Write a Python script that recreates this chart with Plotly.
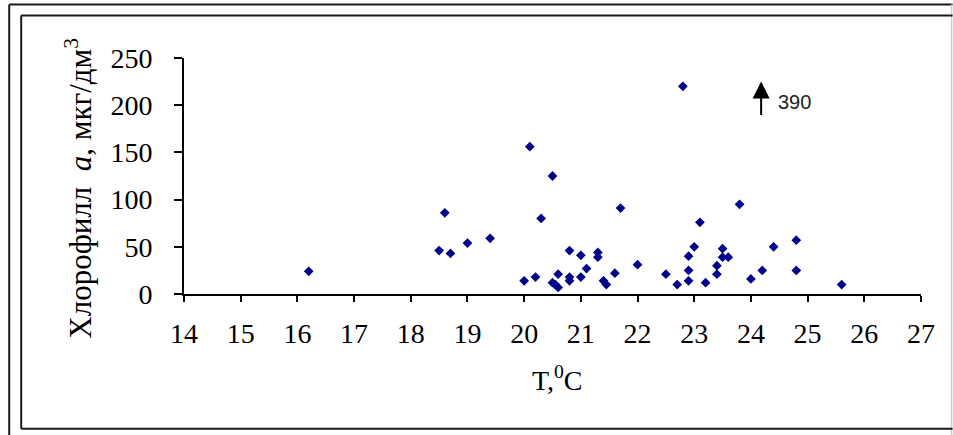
import plotly.graph_objects as go

# Data
temperature = [16.2, 18.5, 18.6, 18.7, 19.0, 19.4, 20.0, 20.1, 20.2, 20.3,
               20.5, 20.5, 20.55, 20.6, 20.6, 20.8, 20.8, 20.8, 21.0, 21.0,
               21.1, 21.3, 21.3, 21.4, 21.45, 21.6, 21.7, 22.0, 22.5, 22.7,
               22.8, 22.9, 22.9, 22.9, 23.0, 23.1, 23.2, 23.4, 23.4, 23.5,
               23.5, 23.6, 23.8, 24.0, 24.2, 24.4, 24.8, 24.8, 25.6]
chlorophyll = [24, 46, 86, 43, 54, 59, 14, 156, 18, 80,
               125, 12, 10, 7, 21, 46, 18, 14, 41, 18,
               27, 44, 39, 14, 10, 22, 91, 31, 21, 10,
               220, 14, 25, 40, 50, 76, 12, 30, 21, 48,
               39, 39, 95, 16, 25, 50, 57, 25, 10]

x_ticks = list(range(14, 28))
y_ticks = [0, 50, 100, 150, 200, 250]

outlier_x = 24.18
outlier_arrow = [188, 225]
outlier_label = "390"

W, H = 953, 435
L, R, T, B = 183.5, 921.4, 58.3, 293.7
pw, ph = R - L, B - T


def px(xp):
    return (xp - L) / pw


def py(yp):
    return (B - yp) / ph


serif = "Liberation Serif"
fig = go.Figure()
fig.add_trace(go.Scatter(
    x=temperature, y=chlorophyll, mode="markers",
    marker=dict(symbol="diamond", size=7.5, color="#00008B",
                line=dict(width=0)),
    showlegend=False, cliponaxis=False,
))

fig.update_layout(
    width=W, height=H,
    margin=dict(l=L, r=W - R, t=T, b=H - B),
    paper_bgcolor="white", plot_bgcolor="white",
    font=dict(family=serif, size=28, color="black"),
    xaxis=dict(range=[14, 27], tickvals=x_ticks, ticktext=[str(v) for v in x_ticks],
               showgrid=False, zeroline=False, showline=True, linecolor="black",
               linewidth=2, ticks="outside", ticklen=6, tickwidth=1.5,
               tickcolor="black", ticklabelstandoff=7,
               tickfont=dict(family=serif, size=28, color="black")),
    yaxis=dict(range=[0, 250], tickvals=y_ticks, ticktext=[str(v) for v in y_ticks],
               showgrid=False, zeroline=False, showline=True, linecolor="black",
               linewidth=2, ticks="outside", ticklen=8, tickwidth=1.5,
               tickcolor="black", ticklabelstandoff=16,
               tickfont=dict(family=serif, size=28, color="black")),
)

annotations = [
    dict(xref="paper", yref="paper", x=px(77), y=py(188), textangle=-90,
         text="Хлорофилл&nbsp; <i>a</i>, мкг/дм<sup>3</sup>", showarrow=False,
         xanchor="center", yanchor="middle",
         font=dict(family=serif, size=31, color="black")),
    dict(xref="paper", yref="paper", x=px(557), y=py(378),
         text="T,<sup>0</sup>C", showarrow=False, xanchor="center", yanchor="middle",
         font=dict(family=serif, size=28, color="black")),
    dict(x=outlier_x, y=outlier_arrow[1], ax=outlier_x, ay=outlier_arrow[0],
         xref="x", yref="y", axref="x", ayref="y", text="", showarrow=True,
         arrowhead=2, arrowsize=1.7, arrowwidth=2, arrowcolor="black"),
    dict(x=outlier_x, y=203, xref="x", yref="y",
         text=outlier_label, showarrow=False, xanchor="left", yanchor="middle",
         xshift=15, font=dict(family="Liberation Sans", size=20, color="#222222")),
]
fig.update_layout(annotations=annotations)

line_dark = dict(color="#1a1a1a", width=2)
shapes = [
    # outer frame
    dict(type="line", xref="paper", yref="paper", x0=px(8.5), y0=py(5), x1=px(953), y1=py(5), line=line_dark),
    dict(type="line", xref="paper", yref="paper", x0=px(8.5), y0=py(5), x1=px(8.5), y1=py(435), line=line_dark),
    dict(type="line", xref="paper", yref="paper", x0=px(952), y0=py(5), x1=px(952), y1=py(435),
         line=dict(color="#cccccc", width=1.5)),
    # inner frame
    dict(type="line", xref="paper", yref="paper", x0=px(20.5), y0=py(16), x1=px(953), y1=py(16), line=line_dark),
    dict(type="line", xref="paper", yref="paper", x0=px(20.5), y0=py(16), x1=px(20.5), y1=py(428), line=line_dark),
    dict(type="line", xref="paper", yref="paper", x0=px(20.5), y0=py(428), x1=px(953), y1=py(428), line=line_dark),
]
fig.update_layout(shapes=shapes)

fig.write_html("out.html")
